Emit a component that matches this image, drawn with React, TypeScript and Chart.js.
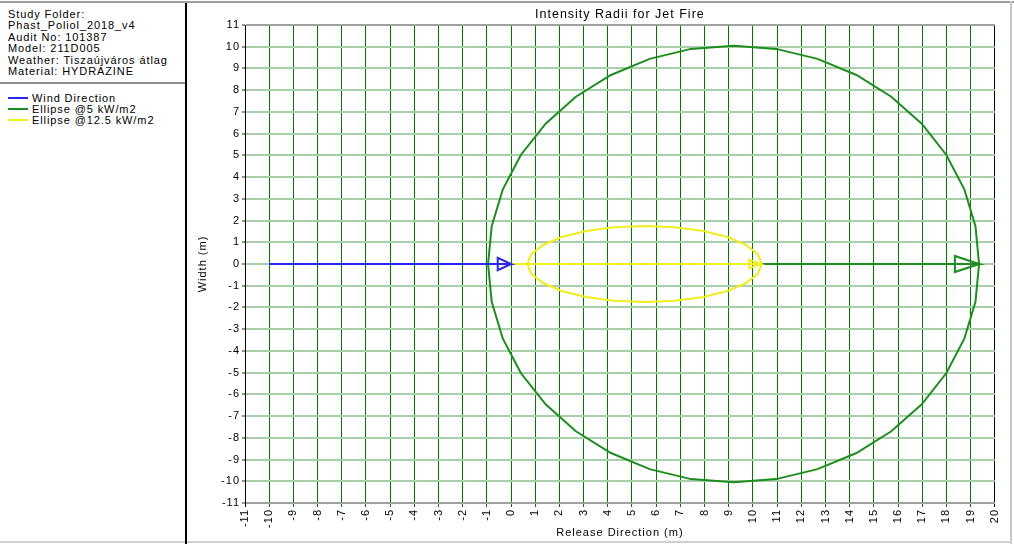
import React, { useEffect, useRef } from "react";
import { Chart, registerables } from "chart.js";

Chart.register(...registerables);

const FONT = "'Liberation Sans', Arial, sans-serif";

const infoLines = [
  "Study Folder:",
  "Phast_Poliol_2018_v4",
  "Audit No: 101387",
  "Model: 211D005",
  "Weather: Tiszaújváros átlag",
  "Material: HYDRAZINE",
];

const chartTitle = "Intensity Radii for Jet Fire";
const xTitle = "Release Direction (m)";
const yTitle = "Width (m)";

const xMin = -11;
const xMax = 20;
const yMin = -11;
const yMax = 11;

const seriesLabels = ["Wind Direction", "Ellipse @5 kW/m2", "Ellipse @12.5 kW/m2"];
const seriesColors = ["#2828e6", "#1e8c1e", "#f0ee1e"];

// Wind direction: line then outlined arrow head
const windX = [-10, 0, -0.55, -0.55, 0];
const windY = [0, 0, 0.28, -0.28, 0];

// Ellipse @5 kW/m2 outline
const ell5X = [19.35, 19.2, 18.74, 17.99, 16.98, 15.72, 14.28, 12.67, 10.96, 9.2, 7.44, 5.73, 4.13, 2.68, 1.43, 0.41, -0.34, -0.8, -0.95, -0.8, -0.34, 0.41, 1.43, 2.68, 4.13, 5.73, 7.44, 9.2, 10.96, 12.67, 14.28, 15.72, 16.98, 17.99, 18.74, 19.2, 19.35];
const ell5Y = [0, 1.74, 3.44, 5.03, 6.46, 7.7, 8.7, 9.44, 9.9, 10.05, 9.9, 9.44, 8.7, 7.7, 6.46, 5.03, 3.44, 1.74, 0, -1.74, -3.44, -5.03, -6.46, -7.7, -8.7, -9.44, -9.9, -10.05, -9.9, -9.44, -8.7, -7.7, -6.46, -5.03, -3.44, -1.74, 0];
// Ellipse @5 axis + arrow head
const axis5X = [0, 19.35, 18.35, 18.35, 19.35];
const axis5Y = [0, 0, 0.37, -0.37, 0];

// Ellipse @12.5 kW/m2 outline
const ell12X = [10.37, 10.2, 9.72, 8.95, 7.95, 6.78, 5.52, 4.26, 3.1, 2.09, 1.32, 0.84, 0.67, 0.84, 1.32, 2.09, 3.1, 4.26, 5.52, 6.78, 7.95, 8.95, 9.72, 10.2, 10.37];
const ell12Y = [0, 0.45, 0.875, 1.24, 1.52, 1.69, 1.75, 1.69, 1.52, 1.24, 0.875, 0.45, 0, -0.45, -0.875, -1.24, -1.52, -1.69, -1.75, -1.69, -1.52, -1.24, -0.875, -0.45, 0];
// Ellipse @12.5 axis + arrow head
const axis12X = [0, 10.3, 9.85, 9.85, 10.3];
const axis12Y = [0, 0, 0.2, -0.2, 0];

const pts = (xs: number[], ys: number[]) => xs.map((x, i) => ({ x, y: ys[i] }));

const spacingPlugin = {
  id: "letterSpacing",
  beforeDraw(chart: any) {
    (chart.ctx as any).letterSpacing = "1px";
  },
};

export default function App() {
  const ref = useRef<HTMLCanvasElement | null>(null);

  useEffect(() => {
    if (!ref.current) return;
    const line = (data: { x: number; y: number }[], color: string, width = 2) => ({
      data,
      borderColor: color,
      backgroundColor: color,
      borderWidth: width,
      showLine: true,
      fill: false,
      pointRadius: 0,
      tension: 0,
    });
    const chart = new Chart(ref.current, {
      type: "scatter",
      plugins: [spacingPlugin],
      data: {
        datasets: [
          { label: seriesLabels[0], ...line(pts(windX, windY), seriesColors[0]) },
          { label: seriesLabels[2] + " axis", ...line(pts(axis12X, axis12Y), seriesColors[2]) },
          { label: seriesLabels[2], ...line(pts(ell12X, ell12Y), seriesColors[2]) },
          { label: seriesLabels[1], ...line(pts(ell5X, ell5Y), seriesColors[1]) },
          { label: seriesLabels[1] + " axis", ...line(pts(axis5X, axis5Y), seriesColors[1]) },
        ] as any,
      },
      options: {
        animation: false,
        responsive: true,
        maintainAspectRatio: false,
        layout: { padding: { left: 0, top: 0, right: 15, bottom: 0 } },
        plugins: {
          legend: { display: false },
          tooltip: { enabled: false },
          title: {
            display: true,
            fullSize: false,
            text: chartTitle,
            color: "#000",
            font: { family: FONT, size: 12.5, weight: "normal" },
            padding: { top: 4, bottom: 3.0 },
          },
        },
        scales: {
          x: {
            type: "linear",
            min: xMin,
            max: xMax,
            afterFit: (s: any) => {
              s.height = 38;
            },
            ticks: {
              stepSize: 1,
              autoSkip: false,
              minRotation: 90,
              maxRotation: 90,
              padding: 2,
              color: "#000",
              font: { family: FONT, size: 11 },
            },
            grid: {
              tickLength: 4,
              lineWidth: 1,
              color: (c: any) =>
                c.tick && (c.tick.value === xMin || c.tick.value === xMax) ? "#000" : "#007800",
            },
            border: { color: "#a0a0a0", width: 2 },
            title: {
              display: true,
              text: xTitle,
              color: "#000",
              font: { family: FONT, size: 11 },
              padding: { top: 0, bottom: 1.4 },
            },
          },
          y: {
            type: "linear",
            min: yMin,
            max: yMax,
            afterFit: (s: any) => {
              s.width = 57;
            },
            ticks: {
              stepSize: 1,
              autoSkip: false,
              padding: 2,
              color: "#000",
              font: { family: FONT, size: 11 },
            },
            grid: {
              tickLength: 3,
              lineWidth: 2,
              color: (c: any) =>
                c.tick && (c.tick.value === yMin || c.tick.value === yMax) ? "#a0a0a0" : "#a9cfa9",
              tickColor: "#909090",
            },
            border: { color: "#000", width: 1 },
            title: {
              display: true,
              text: yTitle,
              color: "#000",
              font: { family: FONT, size: 11 },
              padding: { top: 8.4, bottom: 0 },
            },
          },
        },
      } as any,
    });
    return () => chart.destroy();
  }, []);

  const legendItems = [0, 1, 2];

  return (
    <div
      style={{
        position: "absolute",
        left: 0,
        top: 0,
        width: 1014,
        height: 544,
        background: "#fff",
        fontFamily: FONT,
        overflow: "hidden",
      }}
    >
      {/* top frame line */}
      <div style={{ position: "absolute", left: 0, top: 1, width: 1014, height: 2, background: "#a0a0a0" }} />
      {/* right & bottom frame */}
      <div style={{ position: "absolute", left: 1010, top: 1, width: 2, height: 543, background: "#c8c8c8" }} />
      <div style={{ position: "absolute", left: 0, top: 541, width: 1012, height: 2, background: "#d0d0d0" }} />
      {/* left panel divider */}
      <div style={{ position: "absolute", left: 185, top: 3, width: 2, height: 541, background: "#000" }} />
      {/* info text */}
      <div
        style={{
          position: "absolute",
          left: 8,
          top: 8.75,
          fontSize: 11,
          lineHeight: "11.5px",
          letterSpacing: "0.9px",
          color: "#000",
        }}
      >
        {infoLines.map((t, i) => (
          <div key={i} style={{ whiteSpace: "nowrap" }}>
            {t}
          </div>
        ))}
      </div>
      <div style={{ position: "absolute", left: 0, top: 82, width: 185, height: 2, background: "#909090" }} />
      {/* legend */}
      <div
        style={{
          position: "absolute",
          left: 8,
          top: 92.5,
          fontSize: 11,
          lineHeight: "11px",
          letterSpacing: "0.9px",
          color: "#000",
        }}
      >
        {legendItems.map((i) => (
          <div key={i} style={{ display: "flex", alignItems: "center", whiteSpace: "nowrap" }}>
            <span
              style={{ display: "inline-block", width: 20, height: 2, background: seriesColors[i], marginRight: 4 }}
            />
            <span>{seriesLabels[i]}</span>
          </div>
        ))}
      </div>
      {/* chart */}
      <div style={{ position: "absolute", left: 188, top: 3, width: 822, height: 538 }}>
        <canvas ref={ref} />
      </div>
    </div>
  );
}
